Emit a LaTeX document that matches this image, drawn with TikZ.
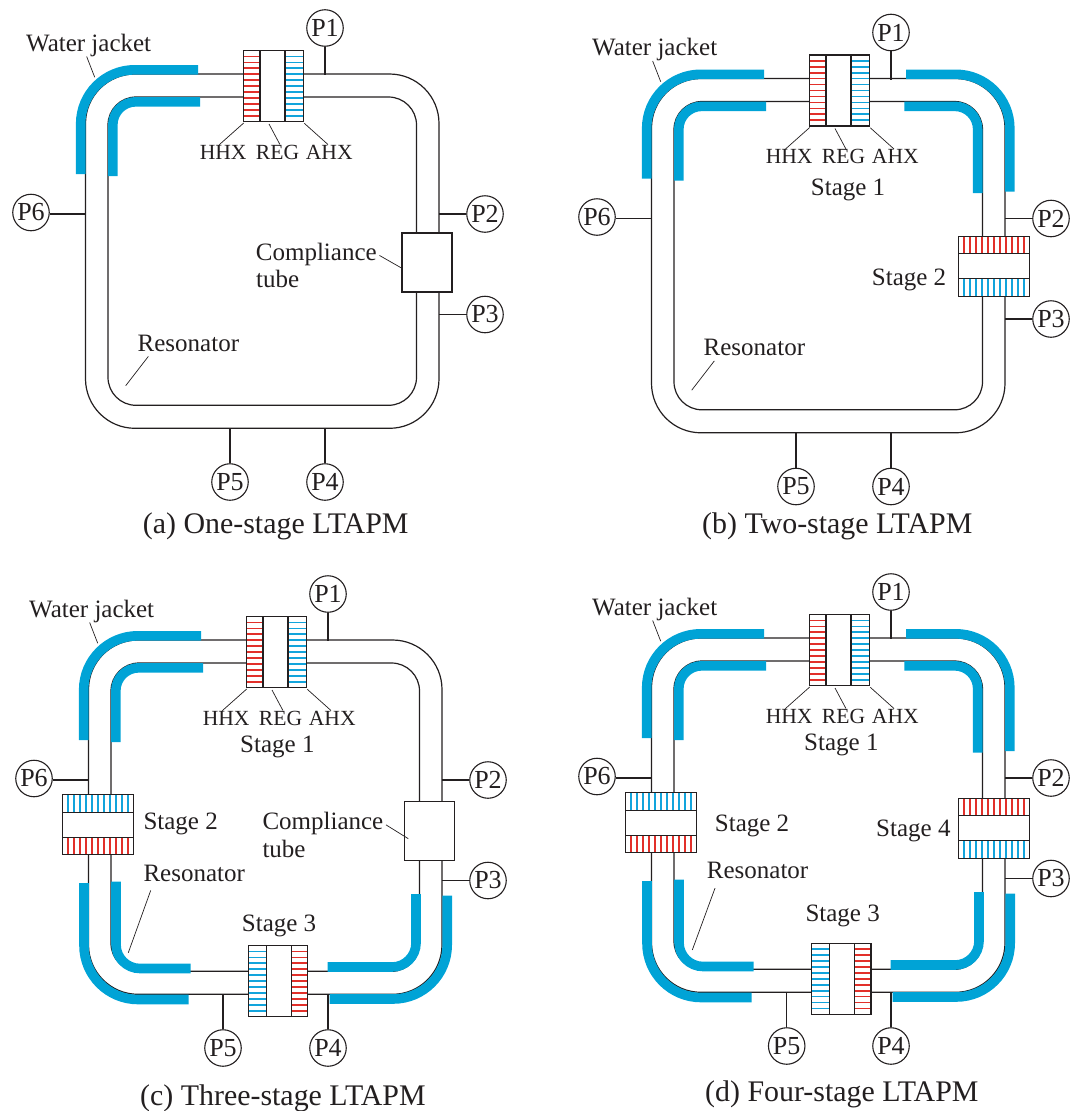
\documentclass[tikz,border=0pt]{standalone}
\usepackage{fontspec}
\setmainfont{Liberation Serif}
\definecolor{ink}{HTML}{231F20}
\definecolor{waterblue}{HTML}{00A3D6}
\definecolor{finred}{HTML}{E2302A}
\definecolor{finblue}{HTML}{12A4DC}
\tikzset{
  tube/.style={line width=1.2pt, draw=ink},
  jacket/.style={line width=9.6pt, draw=waterblue},
  stackbox/.style={draw=ink, fill=white, line width=1.3pt, inner sep=0pt, outer sep=0pt},
  fin/.style={line width=1.6pt},
  probe/.style={circle, draw=ink, line width=1.1pt, fill=white, minimum size=36.5pt, inner sep=0pt, text=ink, font=\fontsize{26}{26}\selectfont},
  probeline/.style={line width=1.2pt, draw=ink},
  leader/.style={line width=.7pt, draw=ink},
  txt/.style={anchor=base west, inner sep=0pt, text=ink, font=\fontsize{25}{25}\selectfont},
  smalltxt/.style={anchor=base west, inner sep=0pt, text=ink, font=\fontsize{21.6}{21.6}\selectfont},
  captxt/.style={anchor=base west, inner sep=0pt, text=ink, font=\fontsize{29.9}{29.9}\selectfont},
}
% horizontal flow stack: name, cx, cy, left colour, right colour, divider shift
\newcommand{\stackh}[6]{
  \node[stackbox, minimum width=59.5pt, minimum height=71pt] (#1) at (#2,#3) {};
  \foreach \fini in {0,...,10} {
    \draw[fin,draw=#4] (#2-29.7,#3-29.6+5.93*\fini) -- (#2-12.5+#6,#3-29.6+5.93*\fini);
    \draw[fin,draw=#5] (#2+12.5+#6,#3-29.6+5.93*\fini) -- (#2+29.7,#3-29.6+5.93*\fini);
  }
  \draw[stackbox] (#2-12.5+#6,#3-35.5) -- (#2-12.5+#6,#3+35.5);
  \draw[stackbox] (#2+12.5+#6,#3-35.5) -- (#2+12.5+#6,#3+35.5);
  \draw[stackbox,fill=none] (#1.south west) rectangle (#1.north east);
}
% vertical flow stack: name, cx, cy, top colour, bottom colour, divider shift
\newcommand{\stackv}[6]{
  \node[stackbox, minimum width=71pt, minimum height=59.5pt] (#1) at (#2,#3) {};
  \foreach \fini in {0,...,10} {
    \draw[fin,draw=#4] (#2-30+6*\fini,#3-29.7) -- (#2-30+6*\fini,#3-12.5+#6);
    \draw[fin,draw=#5] (#2-30+6*\fini,#3+12.5+#6) -- (#2-30+6*\fini,#3+29.7);
  }
  \draw[stackbox] (#2-35.5,#3-12.5+#6) -- (#2+35.5,#3-12.5+#6);
  \draw[stackbox] (#2-35.5,#3+12.5+#6) -- (#2+35.5,#3+12.5+#6);
  \draw[stackbox,fill=none] (#1.south west) rectangle (#1.north east);
}
% what every loop has: tube, upper left jacket, stage 1 stack, probes, labels; arg = x of P5
\newcommand{\loopbase}[1]{
  \draw[tube, rounded corners=49.5pt] (85.5,74) rectangle (439,428.3);
  \draw[tube, rounded corners=28pt] (108,97) rectangle (416.5,405.3);
  \draw[jacket, rounded corners=54pt] (198,69.8) -- (80.7,69.8) -- (80.7,174);
  \draw[jacket, rounded corners=23pt] (200,101.8) -- (112.8,101.8) -- (112.8,176);
  \stackh{heatstack}{273.4}{86}{finred}{finblue}{-0.8}
  \node[probe] (P1) at (325,28) {P1};
  \node[probe] (P2) at (485,214) {P2};
  \node[probe] (P3) at (485,314.5) {P3};
  \node[probe] (P4) at (325,482) {P4};
  \node[probe] (P5) at (#1,482) {P5};
  \node[probe] (P6) at (31,212.5) {P6};
  \coordinate (P1tip) at (325,75);
  \coordinate (P2tip) at (439,214);
  \coordinate (P3tip) at (439,314.5);
  \coordinate (P4tip) at (325,428);
  \coordinate (P5tip) at (#1,428);
  \coordinate (P6tip) at (85.5,214);
  \draw[probeline] (P1) -- (P1tip);
  \draw[probeline] (P2) -- (P2tip);
  \draw[probeline] (P3) -- (P3tip);
  \draw[probeline] (P4) -- (P4tip);
  \draw[probeline] (P5) -- (P5tip);
  \draw[probeline] (P6tip -| P6.east) -- (P6tip);
  \node[txt] (watertxt) at (26,51) {Water jacket};
  \coordinate (watertip) at (94.7,77.2);
  \draw[leader] (watertxt.-100) -- (watertip);
  \node[smalltxt] (hhxtxt) at (199.6,159) {HHX};
  \node[smalltxt] (regtxt) at (255.7,159) {REG};
  \node[smalltxt] (ahxtxt) at (305.7,159) {AHX};
  \coordinate (hhxtip) at (243.7,123);
  \coordinate (regtip) at (269,124);
  \coordinate (ahxtip) at (304.3,123.3);
  \draw[leader] (hhxtxt.118) -- (hhxtip);
  \draw[leader] (regtxt.72) -- (regtip);
  \draw[leader] (ahxtxt.100) -- (ahxtip);
}
% water jackets of the other three corners
\newcommand{\jacketUR}{
  \draw[jacket, rounded corners=54pt] (340,69.8) -- (443.8,69.8) -- (443.8,187);
  \draw[jacket, rounded corners=23pt] (338.3,101.8) -- (411.7,101.8) -- (411.7,188.7);
}
\newcommand{\jacketLL}{
  \draw[jacket, rounded corners=54pt] (81,317) -- (81,433.5) -- (185.5,433.5);
  \draw[jacket, rounded corners=24pt] (113,315.5) -- (113,402.5) -- (187.5,402.5);
}
\newcommand{\jacketLR}{
  \draw[jacket, rounded corners=24pt] (413,328) -- (413,401) -- (324.6,401);
  \draw[jacket, rounded corners=54pt] (444.2,329.5) -- (444.2,433) -- (326.5,433);
}
\begin{document}
\begin{tikzpicture}[x=1pt,y=-1pt]
\useasboundingbox (0,0) rectangle (1072,1111);

% (a) one stage
\begin{scope}[name prefix=a-]
\loopbase{230}
\node[stackbox, minimum width=50pt, minimum height=59pt] (comptube) at (427,262.5) {};
\node[txt] (comptxt) at (255.7,260) {Compliance};
\node[txt] at (256,287) (comptxtb) {tube};
\coordinate (comptip) at (402,268.3);
\draw[leader, shorten <=3pt] (comptxt.east) -- (comptip);
\node[txt] (restxt) at (137.5,351) {Resonator};
\coordinate (restip) at (125.7,385.7);
\draw[leader] ([shift={(10.8,5)}]restxt.south west) -- (restip);
\node[captxt] (caption) at (142.7,533.3) {(a) One-stage LTAPM};
\end{scope}

% (b) two stages
\begin{scope}[shift={(566,4.5)}, name prefix=b-]
\loopbase{230}
\jacketUR
\stackv{stagetwo}{428}{262}{finred}{finblue}{-0.8}
\node[txt] (stageone) at (244.7,190.5) {Stage 1};
\node[txt] (stagetwotxt) at (305.7,280.5) {Stage 2};
\node[txt] (restxt) at (137.5,351) {Resonator};
\coordinate (restip) at (125.7,385.7);
\draw[leader] ([shift={(10.8,5)}]restxt.south west) -- (restip);
\node[captxt] (caption) at (136,528.5) {(b) Two-stage LTAPM};
\end{scope}

% (c) three stages
\begin{scope}[shift={(3,566)}, name prefix=c-]
\loopbase{220}
\jacketLL
\jacketLR
\stackv{stagetwo}{95}{258.5}{finblue}{finred}{0.8}
\stackh{stagethree}{275}{415}{finblue}{finred}{0.8}
\node[stackbox, minimum width=50pt, minimum height=59pt] (comptube) at (426.3,264.8) {};
\node[txt] (stageone) at (237,186) {Stage 1};
\node[txt] (stagetwotxt) at (140.3,263) {Stage 2};
\node[txt] (stagethreetxt) at (238.7,365) {Stage 3};
\node[txt] (comptxt) at (259.3,263.3) {Compliance};
\node[txt] (comptxtb) at (259.3,291.7) {tube};
\coordinate (comptip) at (405.3,272.7);
\draw[leader, shorten <=3pt] (comptxt.east) -- (comptip);
\node[txt] (restxt) at (140.3,315.7) {Resonator};
\coordinate (restip) at (125.3,386.7);
\draw[leader] ([shift={(7.4,8.3)}]restxt.south west) -- (restip);
\node[captxt] (caption) at (137,539) {(c) Three-stage LTAPM};
\end{scope}

% (d) four stages
\begin{scope}[shift={(566,564)}, name prefix=d-]
\loopbase{220.7}
\jacketUR
\jacketLL
\jacketLR
\stackv{stagetwo}{95}{258.5}{finblue}{finred}{0.8}
\stackh{stagethree}{275.3}{414.8}{finblue}{finred}{0.8}
\stackv{stagefour}{428}{264.5}{finred}{finblue}{-0.8}
\node[txt] (stageone) at (238,186) {Stage 1};
\node[txt] (stagetwotxt) at (148.7,267) {Stage 2};
\node[txt] (stagethreetxt) at (239.3,357) {Stage 3};
\node[txt] (stagefourtxt) at (310,272) {Stage 4};
\node[txt] (restxt) at (140.7,314.7) {Resonator};
\coordinate (restip) at (126.3,386);
\draw[leader] ([shift={(8.3,9)}]restxt.south west) -- (restip);
\node[captxt] (caption) at (139,537.7) {(d) Four-stage LTAPM};
\end{scope}
\end{tikzpicture}
\end{document}
